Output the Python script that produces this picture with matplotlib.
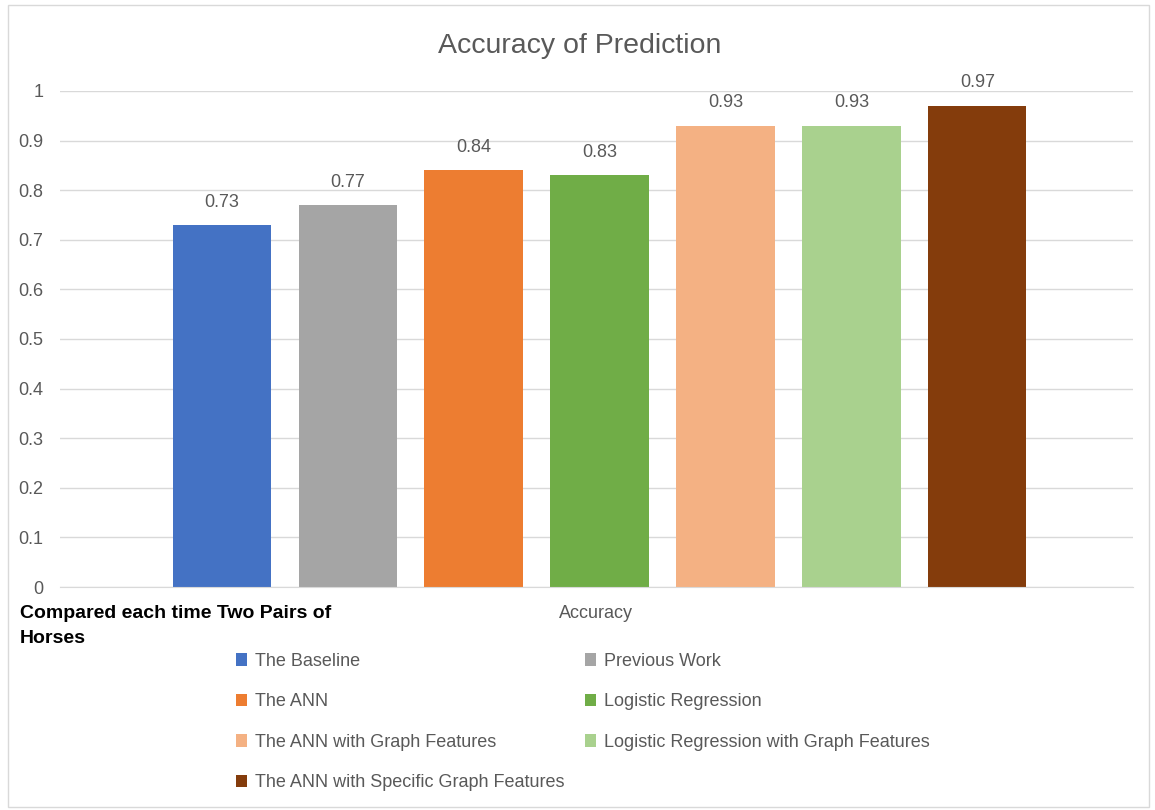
import matplotlib.pyplot as plt
from matplotlib.patches import Patch, Rectangle

# Chart data
methods = ['The Baseline', 'Previous Work', 'The ANN', 'Logistic Regression',
           'The ANN with Graph Features', 'Logistic Regression with Graph Features',
           'The ANN with Specific Graph Features']
accuracy = [0.73, 0.77, 0.84, 0.83, 0.93, 0.93, 0.97]
colors = ['#4472C4', '#A5A5A5', '#ED7D31', '#70AD47', '#F4B183', '#A9D18E', '#843C0C']
yticks = [0, 0.1, 0.2, 0.3, 0.4, 0.5, 0.6, 0.7, 0.8, 0.9, 1]
category = 'Accuracy'

plt.rcParams['font.family'] = ['Liberation Sans', 'DejaVu Sans']
txt = '#595959'

fig = plt.figure(figsize=(11.55, 8.1), dpi=100)
fig.patches.append(Rectangle((0.007, 0.004), 0.988, 0.99, transform=fig.transFigure,
                             fill=False, edgecolor='#d9d9d9', linewidth=1))

ax = fig.add_axes([60 / 1155, 1 - 587 / 810, (1133 - 60) / 1155, (587 - 91) / 810])

n = len(methods)
bw = 0.78
for i, (name, val, c) in enumerate(zip(methods, accuracy, colors)):
    x = i - (n - 1) / 2
    ax.bar(x, val, width=bw, color=c, zorder=2, label=name)
    ax.text(x, val + 0.029, '{:g}'.format(val), ha='center', va='bottom',
            fontsize=13, color=txt, clip_on=False)

ax.set_xlim(-4.284, 4.236)
ax.set_ylim(0, 1)
ax.set_yticks(yticks)
ax.set_yticklabels(['{:g}'.format(t) for t in yticks])
ax.set_xticks([])
ax.tick_params(axis='y', length=0, pad=12, labelsize=13, labelcolor=txt)
ax.grid(axis='y', color='#d9d9d9', linewidth=1, zorder=0)
for s in ['top', 'right', 'left']:
    ax.spines[s].set_visible(False)
ax.spines['bottom'].set_color('#d9d9d9')

fig.text(596 / 1155, 1 - 613 / 810, category, ha='center', va='center',
         fontsize=13, color=txt)
fig.text(20 / 1155, 1 - 626 / 810, 'Compared each time Two Pairs of\nHorses',
         ha='left', va='center', fontsize=14, fontweight='bold', color='black',
         linespacing=1.55)
fig.text(580 / 1155, 1 - 46 / 810, 'Accuracy of Prediction', ha='center', va='center',
         fontsize=20.5, color=txt)

# legend fills column-first, so reorder entries
order = [0, 2, 4, 6, 1, 3, 5]
handles = [Patch(facecolor=colors[i], edgecolor='none') for i in order]
labels = [methods[i] for i in order]
fig.legend(handles, labels, ncol=2, loc='upper left',
           bbox_to_anchor=(236 / 1155, 1 - 653 / 810), frameon=False,
           fontsize=13, labelcolor=txt, handlelength=0.6, handleheight=0.7,
           handletextpad=0.45, labelspacing=1.3, columnspacing=1.15,
           borderpad=0, borderaxespad=0)

fig.savefig('out.png', dpi=100)
